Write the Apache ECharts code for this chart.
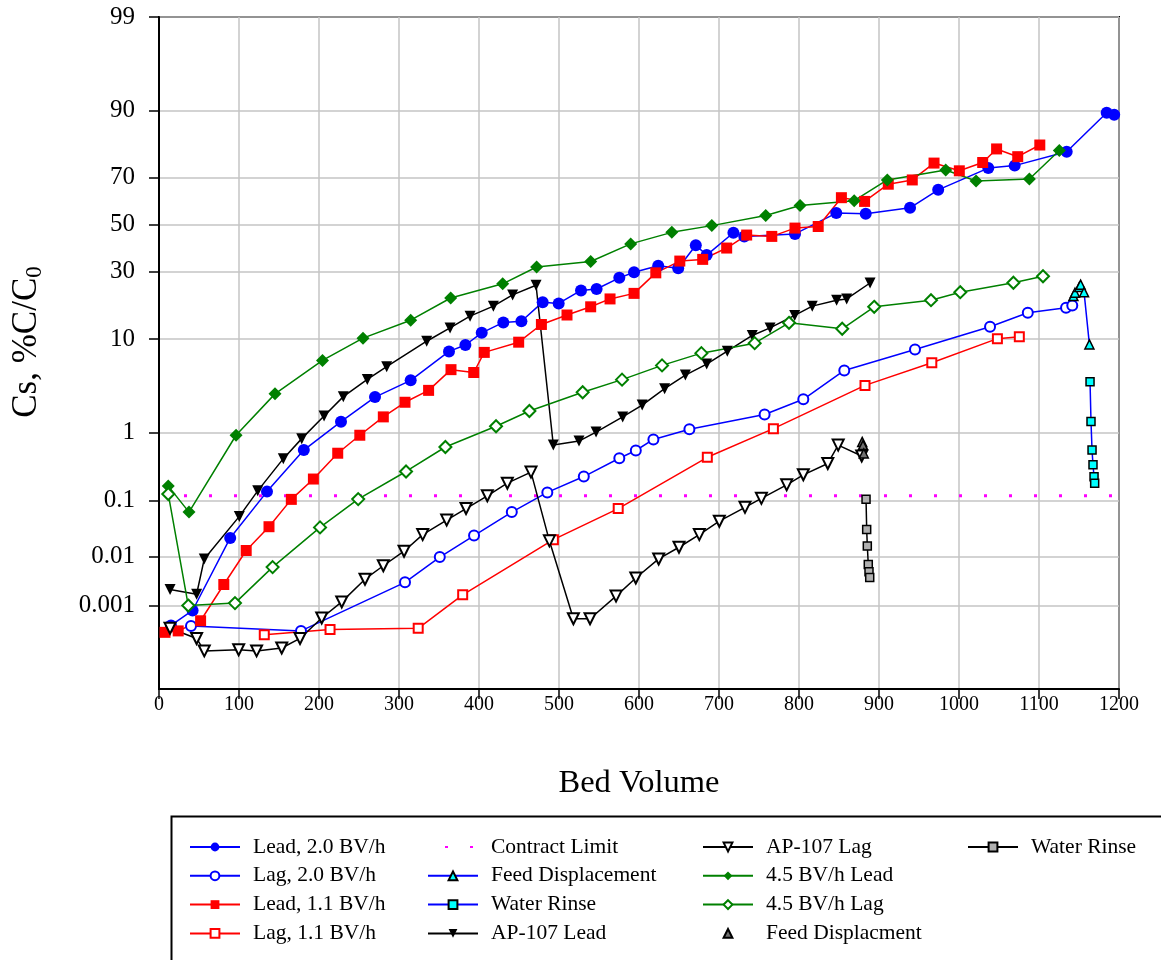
<!DOCTYPE html>
<html>
<head>
<meta charset="utf-8">
<script src="https://cdn.jsdelivr.net/npm/echarts@6/dist/echarts.min.js"></script>
<style>
html,body{margin:0;padding:0;background:#fff;}
#chart{width:1161px;height:960px;}
</style>
</head>
<body>
<div id="chart"></div>
<script>
// ---------- data (Bed Volume, Cs %C/C0) ----------
const lead20BV  = [15,42,89,135,181,227.5,270,314.6,362.5,383,403.4,430.4,453,479.6,499.6,527.5,547,575.4,593.8,624,649,671,684.6,718,731.6,795,846.6,883.4,938.8,974,1036.6,1069.6,1134.6,1184.6,1194];
const lead20Pct = [0.00036,0.00078,0.0226,0.14,0.58,1.37,2.68,4.07,7.8,8.9,11.3,13.7,14.0,19.3,18.9,23.1,23.6,27.6,29.7,32.3,31.3,40.9,36.7,46.4,44.8,45.9,55.2,54.9,57.5,65.2,73.7,74.6,79.3,89.5,89.1];

const lag20BV  = [40,177.5,307.5,351,393.8,441,485.4,531,575.4,596,618,663,757,805.4,856.6,945,1038.8,1086,1133.8,1141.6];
const lag20Pct = [0.00035,0.00027,0.0031,0.0099,0.025,0.0645,0.136,0.24,0.446,0.573,0.81,1.10,1.68,2.53,5.14,8.12,12.65,16.2,17.6,18.3];

const lead11BV  = [7.5,24,52,81,109,137.5,165.4,193,223.4,251,280.4,307.5,337,365,393.4,406.6,449.6,478,510,539.6,563.8,593.8,621,651,679.6,709.6,734.6,766,795,824,853,882,911.6,941.6,968.8,1000.4,1029.6,1047,1073.4,1101];
const lead11Pct = [0.00025,0.00027,0.00046,0.0028,0.0132,0.036,0.105,0.22,0.525,0.92,1.57,2.34,3.18,5.23,4.9,7.64,9.42,13.2,15.6,17.9,20.3,22.1,29.5,34.2,34.9,39.7,45.4,44.8,48.5,49.2,61.9,60.3,67.5,69.2,75.5,72.7,75.7,80.2,77.7,81.4];

const lag11BV  = [131.6,213.8,324,379.6,493,574,685.4,768,882.5,966,1048,1075.4];
const lag11Pct = [0.00022,0.00029,0.00031,0.0017,0.021,0.074,0.46,1.12,3.6,6.1,10.1,10.5];

const limitBV  = [10,1200];
const limitPct = [0.12,0.12];

const feedDispBV  = [1143,1145,1150.4,1152,1156.3,1163];
const feedDispPct = [21.2,22.3,24.3,25.1,22.5,9.0];

const rinseBV  = [1163.8,1165,1166.3,1167.5,1168.8,1169.6];
const rinsePct = [3.94,1.38,0.58,0.36,0.238,0.19];

const ap107LeadBV  = [13.8,47,56.6,100.4,123.4,155.4,178.4,206.3,230.4,260.4,284.6,334.6,363.8,388.8,418,442,471.3,492.9,525,546.3,579.6,604,632,658,684.6,710.4,741.6,763.8,794.6,816.6,847,859.6,888.8];
const ap107LeadPct = [0.0022,0.00175,0.0091,0.0545,0.144,0.44,0.83,1.61,2.71,4.16,5.6,9.6,12.4,15.3,18.1,21.6,24.9,0.68,0.77,1.01,1.57,2.17,3.32,4.61,5.93,7.84,10.75,12.4,15.5,18.1,19.9,20.3,25.7];

const ap107LagBV  = [13.8,47,56.6,99.6,122,153.4,176.3,203.4,228.4,257.5,280.4,306.3,329.6,359.6,383.8,410.4,435.4,465,488,518,538.8,571.3,596,624.6,650,675.4,700.4,732.5,753,784.6,805.4,836,849,878.4];
const ap107LagPct = [0.00031,0.00018,0.000091,0.000097,0.000091,0.000107,0.00018,0.00053,0.0012,0.0036,0.0067,0.0128,0.026,0.047,0.074,0.12,0.19,0.28,0.020,0.00051,0.00051,0.0016,0.0038,0.0091,0.0152,0.026,0.045,0.0775,0.109,0.179,0.255,0.375,0.68,0.48];

const lead45BV  = [11.6,37.5,96.3,145,204.4,255,314.6,364.6,429.6,472,539.6,589.6,641,691,758.4,801.3,869,910.4,983.4,1021.3,1088,1125.4];
const lead45Pct = [0.171,0.0645,0.92,2.91,6.43,10.2,14.25,20.6,25.4,31.8,34.0,41.5,46.6,49.6,54.1,58.5,60.6,69.2,73.0,68.8,69.6,79.7];

const lag45BV  = [11.6,36.6,95,142,201.3,249,308.8,358,421.3,463,529.6,578.8,628.8,678,744.6,787.5,854,894,965,1001.6,1068,1105];
const lag45Pct = [0.128,0.001,0.00113,0.0063,0.035,0.106,0.286,0.64,1.20,1.85,3.03,4.14,5.76,7.52,9.24,13.6,12.2,17.9,19.9,22.5,25.8,28.2];

const apFeedBV  = [879,880,881];
const apFeedPct = [0.75,0.68,0.52];

const apRinseBV  = [883.8,884.6,885.4,886.6,887.5,888.4];
const apRinsePct = [0.105,0.032,0.016,0.0071,0.0051,0.0039];

const yTickPct    = [0.001,0.01,0.1,1,10,30,50,70,90,99];
const yTickLabels = ['0.001','0.01','0.1','1','10','30','50','70','90','99'];
const yMinPct = 0.00001;

// ---------- probability (normal) scale ----------
function probit(p){
  const a=[-3.969683028665376e+01,2.209460984245205e+02,-2.759285104469687e+02,1.383577518672690e+02,-3.066479806614716e+01,2.506628277459239e+00];
  const b=[-5.447609879822406e+01,1.615858368580409e+02,-1.556989798598866e+02,6.680131188771972e+01,-1.328068155288572e+01];
  const c=[-7.784894002430293e-03,-3.223964580411365e-01,-2.400758277161838e+00,-2.549671010929434e+00,4.374664141464968e+00,2.938163982698783e+00];
  const d=[7.784695709041462e-03,3.224671290700398e-01,2.445134137142996e+00,3.754408661907416e+00];
  const pl=0.02425, ph=1-pl; let q,r;
  if(p<pl){q=Math.sqrt(-2*Math.log(p));return (((((c[0]*q+c[1])*q+c[2])*q+c[3])*q+c[4])*q+c[5])/((((d[0]*q+d[1])*q+d[2])*q+d[3])*q+1);}
  if(p<=ph){q=p-0.5;r=q*q;return (((((a[0]*r+a[1])*r+a[2])*r+a[3])*r+a[4])*r+a[5])*q/(((((b[0]*r+b[1])*r+b[2])*r+b[3])*r+b[4])*r+1);}
  q=Math.sqrt(-2*Math.log(1-p));return -(((((c[0]*q+c[1])*q+c[2])*q+c[3])*q+c[4])*q+c[5])/((((d[0]*q+d[1])*q+d[2])*q+d[3])*q+1);
}
const zOf = pct => probit(pct/100);
const pts = (bv,pct) => bv.map((x,i)=>[x, zOf(pct[i])]);

const yTickZ = yTickPct.map(zOf);
const labelOf = {};
yTickZ.forEach((z,i)=>{ labelOf[z.toFixed(6)] = yTickLabels[i]; });

const FONT = '"Liberation Serif","Times New Roman",serif';
const BLUE='#0000FF', RED='#FF0000', GREEN='#008000', BLACK='#000000', CYAN='#00FFFF', MAG='#FF00FF';

function lineSeries(name, data, o){
  return Object.assign({
    name, type:'line', data, showSymbol:true, animation:false, z:3,
    lineStyle:{width:1.5, color:o.color},
    itemStyle:{color:o.color},
    emphasis:{disabled:true}
  }, o.extra||{});
}

const series = [
  lineSeries('Lead, 2.0 BV/h', pts(lead20BV,lead20Pct), {color:BLUE, extra:{symbol:'circle', symbolSize:12}}),
  lineSeries('Lag, 2.0 BV/h', pts(lag20BV,lag20Pct), {color:BLUE, extra:{symbol:'emptyCircle', symbolSize:10, itemStyle:{color:BLUE, borderWidth:2}}}),
  lineSeries('Lead, 1.1 BV/h', pts(lead11BV,lead11Pct), {color:RED, extra:{symbol:'rect', symbolSize:11}}),
  lineSeries('Lag, 1.1 BV/h', pts(lag11BV,lag11Pct), {color:RED, extra:{symbol:'emptyRect', symbolSize:9, itemStyle:{color:RED, borderWidth:2}}}),
  {name:'Contract Limit', type:'line', data: pts(limitBV,limitPct), symbol:'none', animation:false, z:2,
   lineStyle:{color:MAG, width:3, type:[3,22], dashOffset:8}, itemStyle:{color:MAG}},
  lineSeries('Feed Displacement', pts(feedDispBV,feedDispPct), {color:BLUE, extra:{symbol:'triangle', symbolSize:9, itemStyle:{color:CYAN, borderColor:BLACK, borderWidth:1.5}, lineStyle:{color:BLUE, width:1.5}}}),
  lineSeries('Water Rinse', pts(rinseBV,rinsePct), {color:BLUE, extra:{symbol:'rect', symbolSize:8, itemStyle:{color:CYAN, borderColor:BLACK, borderWidth:1.5}, lineStyle:{color:BLUE, width:1.5}}}),
  lineSeries('AP-107 Lead', pts(ap107LeadBV,ap107LeadPct), {color:BLACK, extra:{symbol:'triangle', symbolRotate:180, symbolSize:11}}),
  lineSeries('AP-107 Lag', pts(ap107LagBV,ap107LagPct), {color:BLACK, extra:{symbol:'emptyTriangle', symbolRotate:180, symbolSize:11, itemStyle:{color:BLACK, borderWidth:1.5}}}),
  lineSeries('4.5 BV/h Lead', pts(lead45BV,lead45Pct), {color:GREEN, extra:{symbol:'diamond', symbolSize:13}}),
  lineSeries('4.5 BV/h Lag', pts(lag45BV,lag45Pct), {color:GREEN, extra:{symbol:'emptyDiamond', symbolSize:12, itemStyle:{color:GREEN, borderWidth:2}}}),
  lineSeries('Feed Displacment', pts(apFeedBV,apFeedPct), {color:BLACK, extra:{symbol:'triangle', symbolSize:9, z:4,
   itemStyle:{color:'#707070', borderColor:BLACK, borderWidth:1.5}, lineStyle:{width:0, opacity:0}}}),
  lineSeries('Water Rinse ', pts(apRinseBV,apRinsePct), {color:BLACK, extra:{symbol:'rect', symbolSize:8, itemStyle:{color:'#B0B0B0', borderColor:BLACK, borderWidth:1.5}, lineStyle:{color:BLACK, width:1.5}}})
];

const legendBase = {
  orient:'vertical', padding:0, itemWidth:50, itemHeight:11, itemGap:6.8, selectedMode:false,
  textStyle:{fontFamily:FONT, fontSize:21.5, color:'#000', padding:[0,0,0,8]}
};
const legendCols = [
  {left:189, names:['Lead, 2.0 BV/h','Lag, 2.0 BV/h','Lead, 1.1 BV/h','Lag, 1.1 BV/h']},
  {left:427, names:[{name:'Contract Limit', itemStyle:{opacity:0}},'Feed Displacement','Water Rinse','AP-107 Lead']},
  {left:702, names:['AP-107 Lag','4.5 BV/h Lead','4.5 BV/h Lag','Feed Displacment']},
  {left:967, names:['Water Rinse ']}
];
const legends = legendCols.map(c => Object.assign({}, legendBase, {left:c.left, top:836, data:c.names}));

const option = {
  backgroundColor:'#fff',
  animation:false,
  grid:{left:159, right:42, top:17, bottom:271, show:true, borderColor:'#000', borderWidth:2, backgroundColor:'transparent'},
  xAxis:{
    type:'value', min:0, max:1200, interval:100,
    name:'Bed Volume', nameLocation:'middle', nameGap:78,
    nameTextStyle:{fontFamily:FONT, fontSize:32.5, color:'#000'},
    axisLine:{onZero:false, lineStyle:{color:'#000', width:2}},
    axisTick:{show:true, length:10, lineStyle:{color:'#000', width:1.5}},
    axisLabel:{fontFamily:FONT, fontSize:20, color:'#000', margin:6, formatter: v => String(v)},
    splitLine:{show:true, lineStyle:{color:'#C4C4C4', width:1.5}}
  },
  yAxis:{
    type:'value', min:zOf(yMinPct), max:zOf(99),
    name:'{a|Cs, %C/C}{b|0}', nameLocation:'middle', nameGap:113,
    nameTextStyle:{fontFamily:FONT, fontSize:35, color:'#000', padding:[0,0,0,22],
      rich:{a:{fontFamily:FONT, fontSize:35, color:'#000', lineHeight:38},
            b:{fontFamily:FONT, fontSize:23, color:'#000', lineHeight:14, verticalAlign:'bottom'}}},
    axisLine:{show:true, onZero:false, lineStyle:{color:'#000', width:2}},
    axisTick:{show:true, length:10, customValues:yTickZ, lineStyle:{color:'#000', width:1.5}},
    axisLabel:{fontFamily:FONT, fontSize:25, color:'#000', margin:24, customValues:yTickZ,
      formatter: v => labelOf[Number(v).toFixed(6)] || ''},
    splitLine:{show:true, lineStyle:{color:'#C4C4C4', width:1.5}}
  },
  legend: legends,
  graphic:[{type:'rect', left:169, top:814, shape:{x:0,y:0,width:1100,height:200}, style:{fill:'none', stroke:'#000', lineWidth:2}, silent:true}],
  series
};

const chart = echarts.init(document.getElementById('chart'), null, {renderer:'canvas'});
chart.setOption(option);
</script>
</body>
</html>
